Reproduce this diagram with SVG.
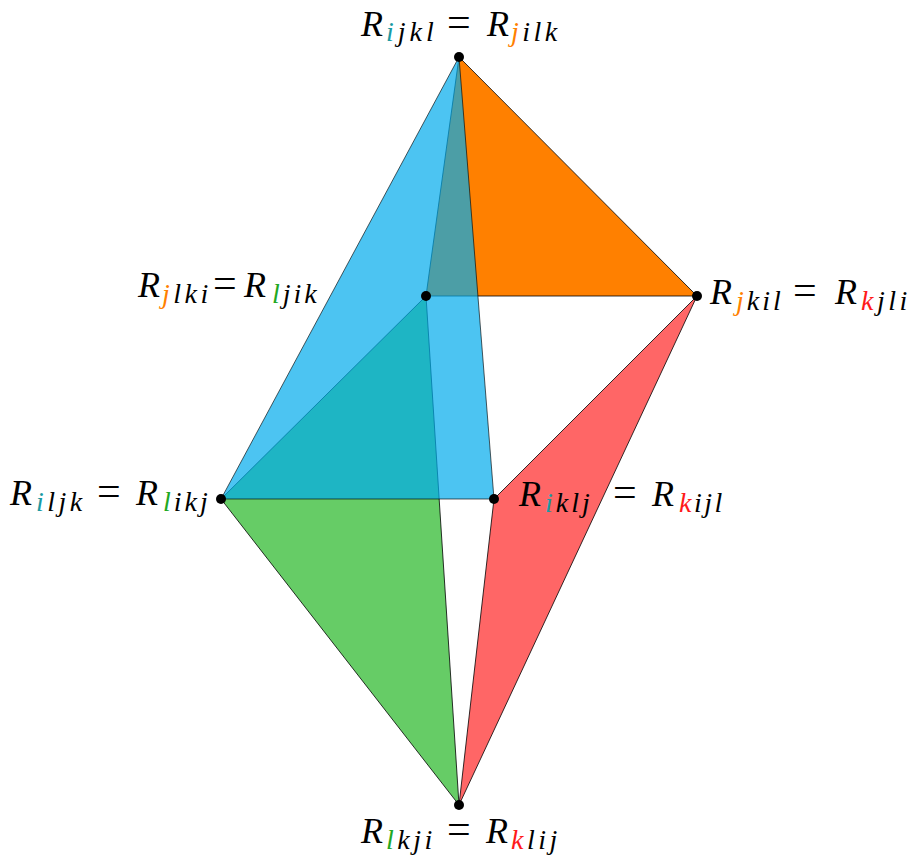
<svg xmlns="http://www.w3.org/2000/svg" width="909" height="858" viewBox="0 0 909 858">
<style>
.face{stroke:#000;stroke-width:0.8;stroke-linejoin:round}
.dot{fill:#000}
</style>
<rect width="909" height="858" fill="#fff"/>
<g id="faces">
<polygon class="face" points="459,57 426,296 697,296" fill="#ff8000"/>
<polygon class="face" points="221,499 426,296 459,805" fill="#66cc66"/>
<polygon class="face" points="697,296 494,499 459,805" fill="#ff6666"/>
<polygon class="face" points="459,57 221,499 494,499" fill="#00abec" fill-opacity="0.7" stroke-opacity="0.8"/>
</g>
<g id="n-top">
<circle class="dot" cx="459" cy="57" r="5"/>
<text x="361" y="36" font-family="Liberation Serif" font-size="36" font-style="italic">R<tspan x="386" y="41" font-size="28" letter-spacing="4"><tspan fill="#1b9aa3">i</tspan>jkl</tspan><tspan x="447" y="36" font-size="42" font-style="normal">=</tspan><tspan x="487" y="36">R</tspan><tspan x="511" y="41" font-size="28" letter-spacing="3.5"><tspan fill="#ff8000">j</tspan>ilk</tspan></text>
</g>
<g id="n-mid">
<circle class="dot" cx="426" cy="296" r="5"/>
<text x="138" y="297" font-family="Liberation Serif" font-size="36" font-style="italic">R<tspan x="162" y="303" font-size="28" letter-spacing="3.5"><tspan fill="#ff8000">j</tspan>lki</tspan><tspan x="213" y="297" font-size="42" font-style="normal">=</tspan><tspan x="244" y="297">R</tspan><tspan x="272" y="303" font-size="28" letter-spacing="3"><tspan fill="#22a822">l</tspan>jik</tspan></text>
</g>
<g id="n-right">
<circle class="dot" cx="697" cy="296" r="5"/>
<text x="710" y="304" font-family="Liberation Serif" font-size="36" font-style="italic">R<tspan x="736" y="310" font-size="28" letter-spacing="3"><tspan fill="#ff8000">j</tspan>kil</tspan><tspan x="793" y="304" font-size="42" font-style="normal">=</tspan><tspan x="835" y="304">R</tspan><tspan x="861" y="310" font-size="28" letter-spacing="3.5"><tspan fill="#ff1a1a">k</tspan>jli</tspan></text>
</g>
<g id="n-left">
<circle class="dot" cx="221" cy="499" r="5"/>
<text x="10" y="505" font-family="Liberation Serif" font-size="36" font-style="italic">R<tspan x="36" y="511" font-size="28" letter-spacing="3.5"><tspan fill="#1b9aa3">i</tspan>ljk</tspan><tspan x="97" y="505" font-size="42" font-style="normal">=</tspan><tspan x="136" y="505">R</tspan><tspan x="163" y="511" font-size="28" letter-spacing="3"><tspan fill="#22a822">l</tspan>ikj</tspan></text>
</g>
<g id="n-center">
<circle class="dot" cx="494" cy="499" r="5"/>
<text x="519" y="506" font-family="Liberation Serif" font-size="36" font-style="italic">R<tspan x="545" y="512" font-size="28" letter-spacing="3"><tspan fill="#1b9aa3">i</tspan>klj</tspan><tspan x="613" y="506" font-size="42" font-style="normal">=</tspan><tspan x="652" y="506">R</tspan><tspan x="679" y="512" font-size="28" letter-spacing="2.5"><tspan fill="#ff1a1a">k</tspan>ijl</tspan></text>
</g>
<g id="n-bottom">
<circle class="dot" cx="459" cy="805" r="5"/>
<text x="361" y="843" font-family="Liberation Serif" font-size="36" font-style="italic">R<tspan x="386" y="849" font-size="28" letter-spacing="3.5"><tspan fill="#22a822">l</tspan>kji</tspan><tspan x="447" y="843" font-size="42" font-style="normal">=</tspan><tspan x="486" y="843">R</tspan><tspan x="511" y="849" font-size="28" letter-spacing="3.5"><tspan fill="#ff1a1a">k</tspan>lij</tspan></text>
</g>
</svg>
